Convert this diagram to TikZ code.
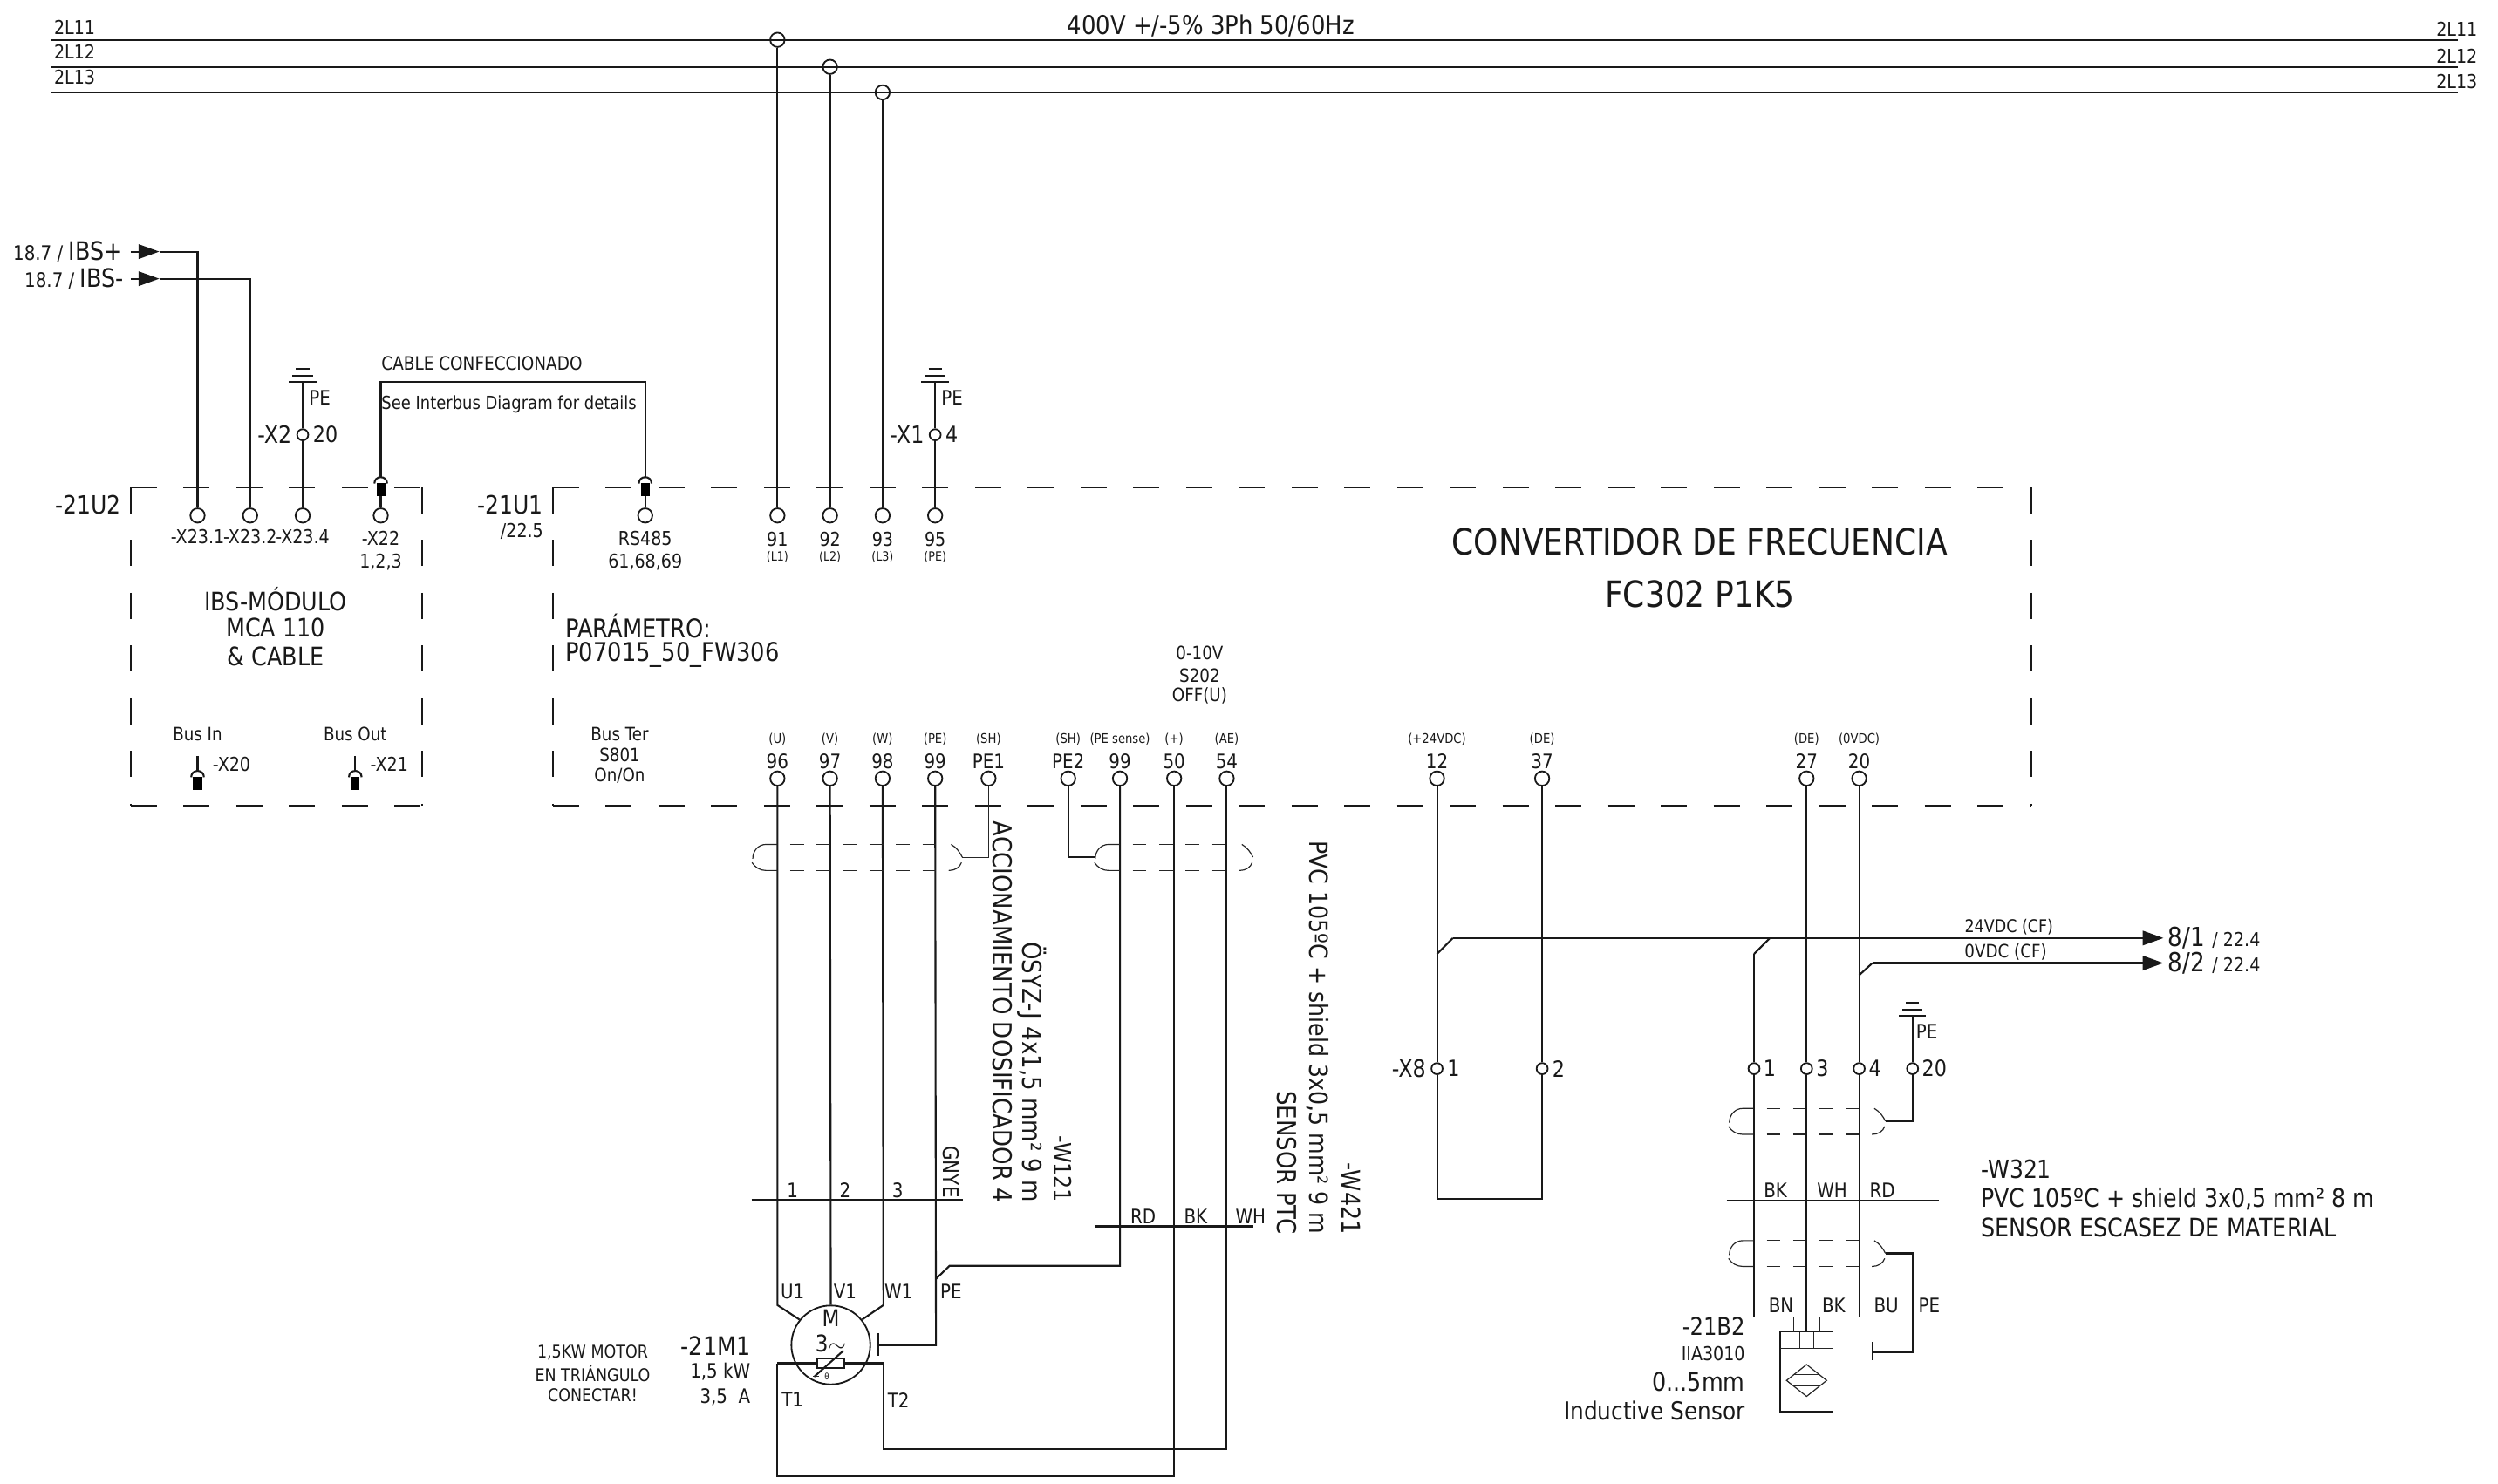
\documentclass[tikz,border=0pt]{standalone}
\usepackage{fontspec}
\setmainfont{DejaVu Sans}[FakeStretch=0.87]
\usetikzlibrary{arrows.meta}
\tikzset{
  fs/.style={font=\fontsize{#1}{#1}\selectfont},
  txt/.style={inner sep=0pt,outer sep=0pt,text=black!90},
  wire/.style={line width=1.15pt,black!90},
  thinl/.style={line width=0.65pt,black!85},
  boxdash/.style={line width=1pt,black!90,dash pattern=on 16.4pt off 16.72pt},
  term/.style={circle,draw=black!90,line width=1pt,inner sep=0pt,minimum size=9pt},
  smallterm/.style={circle,draw=black!90,line width=1pt,inner sep=0pt,minimum size=7pt},
  plug/.style={fill=black,inner sep=0pt,minimum width=5.5pt,minimum height=8pt},
  feed/.style={wire,-{Triangle[length=13pt,width=9pt]}},
}
\newcommand\shieldloop[4]{%
  \draw[thinl] (#1,#3) -- ({#1-7},#3) .. controls ({#1-12},#3) and ({#1-15.5},{#3+4}) .. ({#1-15.5},{#3+9});
  \draw[thinl] ({#1-16},{#4-5}) .. controls ({#1-14},{#4-2}) and ({#1-11},#4) .. ({#1-7},#4) -- (#1,#4);
  \draw[thinl] ({#2+9.5},#3) .. controls ({#2+13},{#3+2}) and ({#2+15},{#3+5}) .. ({#2+16.5},{#3+8});
  \draw[thinl] ({#2+16},{#4-5}) .. controls ({#2+15},{#4-2}) and ({#2+12},#4) .. ({#2+8},#4);
  \draw[thinl,dash pattern=on 8.6pt off 8pt] ({#1+8},#3) -- (#2,#3);
  \draw[thinl,dash pattern=on 8.6pt off 8pt] ({#1+8},#4) -- (#2,#4);
}
\newcommand\ground[2]{%
  \draw[wire] ({#1-8.6},#2) -- ({#1+8.6},#2);
  \draw[wire] ({#1-6.4},{#2-4.2}) -- ({#1+6.4},{#2-4.2});
  \draw[wire] ({#1-4.2},{#2-8.4}) -- ({#1+4.2},{#2-8.4});
}
\newcommand\hood[2]{%
  \draw[wire] ({#1-4},#2) .. controls ({#1-4},{#2-5.3}) and ({#1+4},{#2-5.3}) .. ({#1+4},#2);
}
\begin{document}
\begin{tikzpicture}[x=1pt,y=-1pt]
\fill[white] (0,0) rectangle (1568,931.8);
\useasboundingbox (0,0) rectangle (1568,931.8);

%% ---------- supply bus
\coordinate (b1l) at (32,25);  \coordinate (b1r) at (1543,25);
\coordinate (b2l) at (32,42);  \coordinate (b2r) at (1543,42);
\coordinate (b3l) at (32,58);  \coordinate (b3r) at (1543,58);
\draw[wire] (b1l) -- (b1r);
\draw[wire] (b2l) -- (b2r);
\draw[wire] (b3l) -- (b3r);
\node[txt,fs=12,anchor=west] (la1) at (34,17) {2L11};
\node[txt,fs=12,anchor=west] (la2) at (34,32.5) {2L12};
\node[txt,fs=12,anchor=west] (la3) at (34,48.5) {2L13};
\node[txt,fs=12,anchor=east] (ra1) at (1555,18) {2L11};
\node[txt,fs=12,anchor=east] (ra2) at (1555,35) {2L12};
\node[txt,fs=12,anchor=east] (ra3) at (1555,51) {2L13};
\node[txt,fs=16.3] (title) at (760,16) {400V +/-5\% 3Ph 50/60Hz};
\node[term] (j1) at (488,25) {};
\node[term] (j2) at (521,42) {};
\node[term] (j3) at (554,58) {};

%% ---------- dashed unit frames
\draw[boxdash] (82,306) -- (265,306);
\draw[boxdash] (82,306) -- (82,506);
\draw[boxdash] (265,306) -- (265,506);
\draw[boxdash] (82,506) -- (265,506);
\draw[boxdash] (347,306) -- (1275,306);
\draw[boxdash] (347,306) -- (347,506);
\draw[boxdash] (1275,306) -- (1275,506);
\draw[boxdash] (347,506) -- (1275,506);

%% ---------- upper terminals
\foreach \x/\id in {124/xa,157/xb,190/xc,239/xd,405/xe,488/ua,521/ub,554/uc,587/ud}
  \node[term] (t\id) at (\x,323.7) {};
\foreach \x/\n/\p/\id in {488/91/L1/ua,521/92/L2/ub,554/93/L3/uc,587/95/PE/ud}{
  \node[txt,fs=12] (n\id) at (\x,338.5) {\n};
  \node[txt,fs=8] (p\id) at (\x,350) {(\p)};
}
\draw[wire] (j1) -- (tua);
\draw[wire] (j2) -- (tub);
\draw[wire] (j3) -- (tuc);

%% ---------- IBS feeds
\coordinate (ibsA) at (82,158); \coordinate (ibsAt) at (100,158);
\coordinate (ibsB) at (82,175); \coordinate (ibsBt) at (100,175);
\draw[feed] (ibsA) -- (ibsAt);
\draw[feed] (ibsB) -- (ibsBt);
\draw[wire] (ibsAt) -| (txa);
\draw[wire] (ibsBt) -| (txb);
\node[txt,anchor=east] (lIa) at (77,158) {\fontsize{12.5}{12.5}\selectfont 18.7 / \fontsize{16}{16}\selectfont IBS+};
\node[txt,anchor=east] (lIb) at (77.5,175) {\fontsize{12.5}{12.5}\selectfont 18.7 / \fontsize{16}{16}\selectfont IBS-};

%% ---------- X2 / X1 earth stubs
\foreach \x/\id/\lab/\num in {190/gb/-X2/20,587/ga/-X1/4}{
  \coordinate (\id) at (\x,240);
  \ground{\x}{240}
  \node[smallterm] (\id c) at (\x,273) {};
  \draw[wire] (\id) -- (\id c);
  \node[txt,fs=12.5,anchor=west] (\id p) at ({\x+4},250) {PE};
  \node[txt,fs=15,anchor=east] (\id l) at ({\x-7},273) {\lab};
  \node[txt,fs=14,anchor=west] (\id n) at ({\x+6.5},273) {\num};
}
\draw[wire] (gbc) -- (txc);
\draw[wire] (gac) -- (tud);

%% ---------- X23 labels
\node[txt,fs=12] (lx1) at (124,337) {-X23.1};
\node[txt,fs=12] (lx2) at (157,337) {-X23.2};
\node[txt,fs=12] (lx3) at (190,337) {-X23.4};
\node[txt,fs=12] (lx4) at (239,338) {-X22};
\node[txt,fs=12] (lx5) at (239,353) {1,2,3};
\node[txt,fs=12] (lx6) at (405,338) {RS485};
\node[txt,fs=12] (lx7) at (405,353) {61,68,69};

%% ---------- plugs with the ready-made cable
\node[plug] (pd) at (239,307.5) {};
\node[plug] (pe) at (405,307.5) {};
\hood{239}{303.6}
\hood{405}{303.6}
\coordinate (pdt) at (239,299.6);
\coordinate (pet) at (405,299.6);
\coordinate (cabA) at (239,240);
\coordinate (cabB) at (405,240);
\draw[wire] (pdt) -- (cabA) -- (cabB) -- (pet);
\draw[wire] (pd) -- (txd);
\draw[wire] (pe) -- (txe);
\node[txt,fs=11.6,anchor=west] (lc1) at (239.5,228) {CABLE CONFECCIONADO};
\node[txt,fs=11.3,anchor=west] (lc2) at (239.5,254) {See Interbus Diagram for details};

%% ---------- unit texts
\node[txt,fs=15.8,anchor=east] (u2) at (76,317) {-21U2};
\node[txt,fs=15.8,anchor=east] (u1) at (341,317) {-21U1};
\node[txt,fs=12,anchor=east] (u1r) at (341,333.5) {/22.5};
\node[txt,fs=16] (m1) at (173,376) {IBS-MÓDULO};
\node[txt,fs=16] (m2) at (173,394) {MCA 110};
\node[txt,fs=16] (m3) at (173,412) {\& CABLE};
\node[txt,fs=16.2,anchor=west] (par1) at (355,393) {PARÁMETRO:};
\node[txt,fs=16.2,anchor=west] (par2) at (355,411) {P07015\_50\_FW306};
\node[txt,fs=11.5] (bi) at (124,461) {Bus In};
\node[txt,fs=11.5] (bo) at (223,461) {Bus Out};
\node[txt,fs=11.5] (bt1) at (389,461) {Bus Ter};
\node[txt,fs=11.5] (bt2) at (389,474) {S801};
\node[txt,fs=11.5] (bt3) at (389,487) {On/On};
\node[txt,fs=11.5] (off1) at (753,410) {0-10V};
\node[txt,fs=11.5] (off2) at (753,424) {S202};
\node[txt,fs=11.5] (off3) at (753,437) {OFF(U)};
\node[txt,fs=22.7] (fc1) at (1067,340) {CONVERTIDOR DE FRECUENCIA};
\node[txt,fs=22.7] (fc2) at (1067,373) {FC302 P1K5};

%% ---------- bus plugs
\foreach \x/\id/\lab in {124/pi/-X20,223/po/-X21}{
  \coordinate (\id t) at (\x,474.6);
  \coordinate (\id h) at (\x,484);
  \draw[wire] (\id t) -- (\id h);
  \hood{\x}{488}
  \node[plug] (\id) at (\x,492) {};
  \node[txt,fs=12,anchor=west] (\id l) at ({\x+9.5},480) {\lab};
}

%% ---------- lower terminals
\foreach \x/\n/\p/\id in {488/96/{(U)}/a,521/97/{(V)}/b,554/98/{(W)}/c,587/99/{(PE)}/d,620.5/PE1/{(SH)}/e,670.5/PE2/{(SH)}/f,703/99/{(PE sense)}/g,737/50/{(+)}/h,770/54/{(AE)}/i,902/12/{(+24VDC)}/j,968/37/{(DE)}/k,1134/27/{(DE)}/l,1167/20/{(0VDC)}/m}{
  \node[term] (d\id) at (\x,488.8) {};
  \node[txt,fs=12.5] (dn\id) at (\x,478) {\n};
  \node[txt,fs=8.3] (dp\id) at (\x,464) {\p};
}

%% ---------- motor
\node[circle,draw=black!90,line width=1pt,inner sep=0pt,minimum size=49.5pt] (motor) at (521.5,844.5) {};
\node[txt,fs=14.5] (mM) at (521.5,827.5) {M};
\node[txt,fs=14.5] (m3p) at (521.5,843.5) {3$\sim$};
\node[draw=black!90,line width=1pt,inner sep=0pt,minimum width=17pt,minimum height=6pt] (ptc) at (521.5,856) {};
\coordinate (pa) at (511,864.5); \coordinate (pb) at (529.5,848);
\draw[wire] (pa) -- (pb);
\coordinate (pc) at (510.5,864); \coordinate (pd2) at (514,864);
\draw[thinl] (pc) -- (pd2);
\node[txt,fs=5.5] (theta) at (519,864.5) {θ};

\coordinate (ua) at (488,795); \coordinate (ub) at (488,819.5);
\coordinate (wa) at (554.5,795); \coordinate (wb) at (554.5,819.5);
\draw[wire] (da) -- (ub) -- (motor.141);
\draw[wire] (db) -- (motor.north);
\draw[wire] (dc) -- (wb) -- (motor.39);
\coordinate (pebar) at (551,844.7);
\coordinate (pebara) at (551,837); \coordinate (pebarb) at (551,851.5);
\coordinate (pecor) at (587.5,844.7);
\draw[wire] (dd) -- (pecor) -- (pebar);
\draw[line width=1.4pt,black!90] (pebara) -- (pebarb);
\coordinate (tl) at (488,856); \coordinate (tr) at (554.5,856);
\draw[wire] (tl) -- (ptc.west);
\draw[wire] (ptc.east) -- (tr);
\coordinate (tlb) at (488,927); \coordinate (tbl) at (737,927);
\coordinate (trb) at (554.5,910); \coordinate (tbr) at (770,910);
\draw[wire] (tl) -- (tlb) -- (tbl) -- (dh);
\draw[wire] (tr) -- (trb) -- (tbr) -- (di);
\coordinate (gc) at (703,794.8); \coordinate (gd) at (596,794.8); \coordinate (ge) at (587.5,803);
\draw[wire] (dg) -- (gc) -- (gd) -- (ge);

%% shield links, left
\coordinate (s1r) at (604,538.4); \coordinate (s1c) at (620.5,538.4);
\draw[thinl] (de) -- (s1c) -- (s1r);
\coordinate (s2l) at (687.5,538.4); \coordinate (s2c) at (670.5,538.4);
\draw[wire] (df) -- (s2c) -- (s2l);
\shieldloop{488}{587.5}{530.2}{546.6}
\shieldloop{703}{770}{530.2}{546.6}

%% cable lines
\coordinate (w1a) at (471.7,753.6); \coordinate (w1b) at (604.4,753.6);
\draw[wire] (w1a) -- (w1b);
\coordinate (w2a) at (687,770); \coordinate (w2b) at (787,770);
\draw[wire] (w2a) -- (w2b);
\node[txt,fs=12.5] (wl1) at (497.5,747.5) {1};
\node[txt,fs=12.5] (wl2) at (530.5,747.5) {2};
\node[txt,fs=12.5] (wl3) at (563.5,747.5) {3};
\node[txt,fs=13.5,rotate=-90,anchor=east] (wl4) at (597,752) {GNYE};
\node[txt,fs=12.5] (wl5) at (717.5,764) {RD};
\node[txt,fs=12.5] (wl6) at (750.5,764) {BK};
\node[txt,fs=12.5] (wl7) at (785,764) {WH};
\node[txt,fs=12.5] (ml1) at (497.5,811) {U1};
\node[txt,fs=12.5] (ml2) at (530.5,811) {V1};
\node[txt,fs=12.5] (ml3) at (564,811) {W1};
\node[txt,fs=12.5] (ml4) at (597,811) {PE};
\node[txt,fs=12.5] (ml5) at (497.5,879) {T1};
\node[txt,fs=12.5] (ml6) at (564,879) {T2};
\node[txt,fs=16,anchor=east] (mt1) at (471,845) {-21M1};
\node[txt,fs=12.5,anchor=east] (mt2) at (471,861) {1,5 kW};
\node[txt,fs=12.5,anchor=east] (mt3) at (471,877) {3,5\ \ A};
\node[txt,fs=11] (mn1) at (372,849) {1,5KW MOTOR};
\node[txt,fs=11] (mn2) at (372,862.5) {EN TRIÁNGULO};
\node[txt,fs=11] (mn3) at (372,876) {CONECTAR!};

%% rotated cable texts
\node[txt,fs=16.4,rotate=-90,anchor=east] (v1) at (629,755) {ACCIONAMIENTO DOSIFICADOR 4};
\node[txt,fs=16.4,rotate=-90,anchor=east] (v2) at (648,755) {ÖSYZ-J 4x1,5 mm² 9 m};
\node[txt,fs=15,rotate=-90,anchor=east] (v3) at (667,755) {-W121};
\node[txt,fs=16.4,rotate=-90,anchor=east] (v4) at (808,775) {SENSOR PTC};
\node[txt,fs=15.9,rotate=-90,anchor=east] (v5) at (827,775) {PVC 105ºC + shield 3x0,5 mm² 9 m};
\node[txt,fs=16,rotate=-90,anchor=east] (v6) at (848,775) {-W421};

%% ---------- X8 and sensor terminals
\node[smallterm] (x81) at (902,671) {};
\node[smallterm] (x82) at (968,671) {};
\node[smallterm] (s1) at (1101,671) {};
\node[smallterm] (s3) at (1134,671) {};
\node[smallterm] (s4) at (1167,671) {};
\node[smallterm] (s20) at (1200.5,671) {};
\node[txt,fs=15,anchor=east] (x8l) at (895,671) {-X8};
\node[txt,fs=14,anchor=west] (x8a) at (908.5,671) {1};
\node[txt,fs=14,anchor=west] (x8b) at (974.5,671) {2};
\node[txt,fs=14,anchor=west] (s1l) at (1107,671) {1};
\node[txt,fs=14,anchor=west] (s3l) at (1140,671) {3};
\node[txt,fs=14,anchor=west] (s4l) at (1173,671) {4};
\node[txt,fs=14,anchor=west] (s20l) at (1206.5,671) {20};
\draw[wire] (dj) -- (x81);
\draw[wire] (dk) -- (x82);
\coordinate (x8c) at (902,753); \coordinate (x8d) at (968,753);
\draw[wire] (x81) -- (x8c) -- (x8d) -- (x82);

%% ---------- outgoing 24V / 0V
\coordinate (o1a) at (902,599); \coordinate (o1b) at (912,589); \coordinate (o1end) at (1358,589);
\coordinate (o2a) at (1101,599); \coordinate (o2b) at (1111,589);
\coordinate (o3a) at (1167,612.3); \coordinate (o3b) at (1175.3,604.7); \coordinate (o3end) at (1358,604.7);
\draw[wire] (o1a) -- (o1b);
\draw[feed] (o1b) -- (o1end);
\draw[wire] (o2a) -- (o2b);
\draw[wire] (o2a) -- (s1);
\draw[wire] (o3a) -- (o3b);
\draw[feed] (o3b) -- (o3end);
\node[txt,fs=11,anchor=south] (o1l) at (1261,587) {24VDC (CF)};
\node[txt,fs=11.5,anchor=south] (o2l) at (1259,603) {0VDC (CF)};
\node[txt,anchor=west] (o1t) at (1361,589) {\fontsize{16.5}{16.5}\selectfont 8/1 \fontsize{12}{12}\selectfont / 22.4};
\node[txt,anchor=west] (o2t) at (1361,605) {\fontsize{16.5}{16.5}\selectfont 8/2 \fontsize{12}{12}\selectfont / 22.4};
\draw[wire] (dl) -- (s3);
\draw[wire] (dm) -- (s4);

%% ---------- earth on sensor
\ground{1200.5}{638}
\coordinate (gs) at (1200.5,638);
\draw[wire] (gs) -- (s20);
\node[txt,fs=12.5] (gsl) at (1209.5,647.5) {PE};

\shieldloop{1101}{1167}{696}{712.3}
\shieldloop{1101}{1167}{779}{795.2}
\coordinate (s5a) at (1183.7,704); \coordinate (s5b) at (1200.5,704);
\draw[wire] (s20) -- (s5b) -- (s5a);
\coordinate (s6a) at (1183.7,787); \coordinate (s6b) at (1200.5,787);
\coordinate (s6c) at (1200.5,849.2); \coordinate (s6d) at (1175.3,849.2);
\draw[wire] (s6a) -- (s6b) -- (s6c) -- (s6d);
\coordinate (s6e) at (1175.3,842.8); \coordinate (s6f) at (1175.3,853.8);
\draw[wire] (s6e) -- (s6f);

%% ---------- W321 line
\coordinate (w3a) at (1083.8,753.8); \coordinate (w3b) at (1217.2,753.8);
\draw[wire] (w3a) -- (w3b);
\node[txt,fs=12.5] (w3l1) at (1114.5,747.5) {BK};
\node[txt,fs=12.5] (w3l2) at (1150,747.5) {WH};
\node[txt,fs=12.5] (w3l3) at (1181.5,747.5) {RD};
\node[txt,fs=12.5] (w3l4) at (1118,819.7) {BN};
\node[txt,fs=12.5] (w3l5) at (1151,819.7) {BK};
\node[txt,fs=12.5] (w3l6) at (1184,819.7) {BU};
\node[txt,fs=12.5] (w3l7) at (1211,819.7) {PE};
\node[txt,fs=15.8,anchor=west] (w3t1) at (1243.4,734) {-W321};
\node[txt,fs=15.9,anchor=west] (w3t2) at (1243.4,752.7) {PVC 105ºC + shield 3x0,5 mm² 8 m};
\node[txt,fs=16,anchor=west] (w3t3) at (1243.4,770.6) {SENSOR ESCASEZ DE MATERIAL};

%% ---------- sensor body
\node[draw=black!90,line width=.8pt,inner sep=0pt,minimum width=33.3pt,minimum height=50pt] (sens) at (1134,861.4) {};
\coordinate (h1) at (1117.5,846.8); \coordinate (h2) at (1150.8,846.8);
\draw[thinl] (h1) -- (h2);
\coordinate (c1) at (1129.9,836.5); \coordinate (c1b) at (1129.9,846.8);
\coordinate (c2) at (1138.3,836.5); \coordinate (c2b) at (1138.3,846.8);
\draw[thinl] (c1) -- (c1b);
\draw[thinl] (c2) -- (c2b);
\coordinate (k1) at (1101,826.8); \coordinate (k2) at (1125.7,826.8); \coordinate (k3) at (1125.7,836.5);
\coordinate (k4) at (1167,826.8); \coordinate (k5) at (1142.2,826.8); \coordinate (k6) at (1142.2,836.5);
\coordinate (k7) at (1134,836.5);
\draw[thinl] (k1) -- (k2) -- (k3);
\draw[thinl] (k4) -- (k5) -- (k6);
\draw[wire] (s1) -- (k1);
\draw[wire] (s3) -- (k7);
\draw[wire] (s4) -- (k4);
\draw[thinl] (1134,856.8) -- (1146.6,866.8) -- (1134,876.8) -- (1121.4,866.8) -- cycle;
\draw[thinl] (1126,863.3) -- (1142,863.3);
\draw[thinl] (1125.5,870) -- (1142.5,870);
\node[txt,fs=15.3,anchor=east] (sn1) at (1095.3,833) {-21B2};
\node[txt,fs=12,anchor=east] (sn2) at (1095.3,850) {IIA3010};
\node[txt,fs=16,anchor=east] (sn3) at (1095.3,867.5) {0...5mm};
\node[txt,fs=15.6,anchor=east] (sn4) at (1095.3,885.8) {Inductive Sensor};
\end{tikzpicture}
\end{document}
